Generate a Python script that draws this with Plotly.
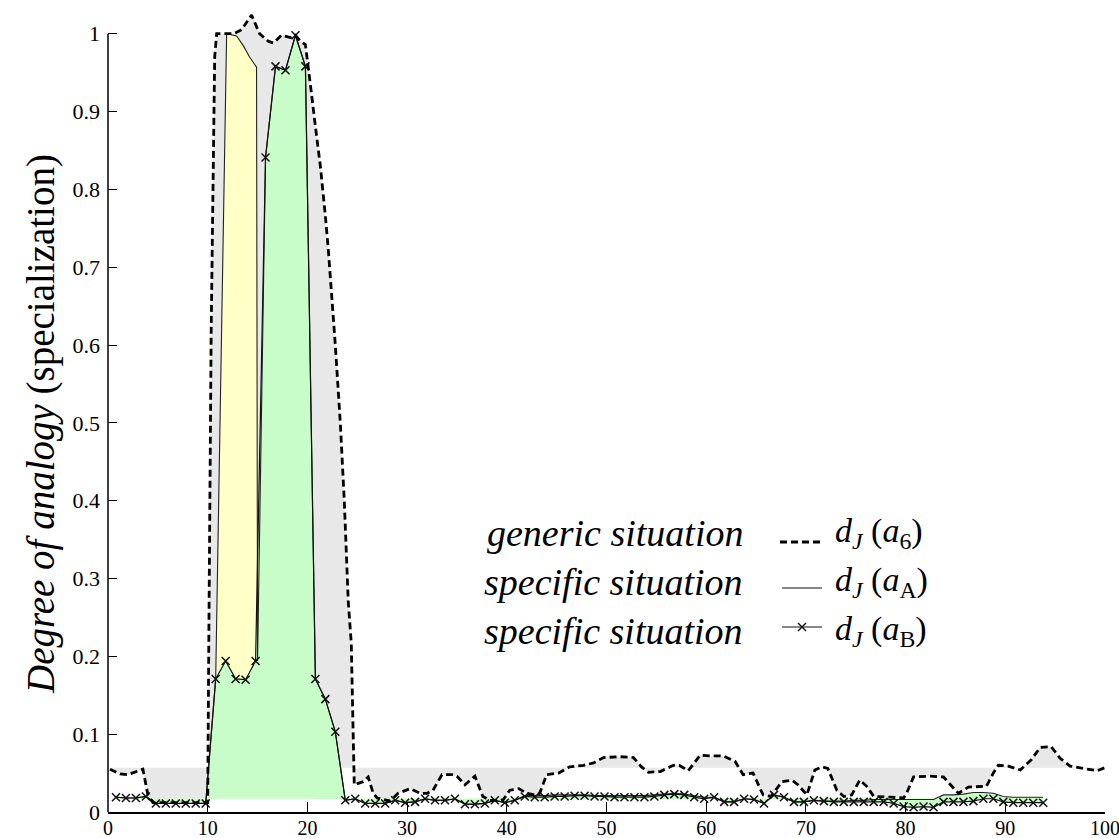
import plotly.graph_objects as go

# ---------------- data ----------------
x_ticks = [0, 10, 20, 30, 40, 50, 60, 70, 80, 90, 100]
y_ticks = [0, 0.1, 0.2, 0.3, 0.4, 0.5, 0.6, 0.7, 0.8, 0.9, 1]

# generic situation d_J(a_6)  (dashed)
a6_x = [0.2, 1.2, 2.0, 2.9, 3.5, 4.0, 4.5, 6.0, 8.0, 10.0, 10.1, 10.35, 10.7, 10.9, 12.6, 13.4, 14.4, 15.2,
        16.1, 16.6, 17.4, 18.3, 18.8, 19.3, 19.8, 20.1, 20.4, 20.8, 21.3, 21.8, 22.1, 22.8, 23.3, 23.7, 24.1,
        24.4, 24.6, 24.7, 25.6, 26.1, 26.6, 27.0, 28.3, 29.1, 30.3, 31.3, 32.0, 32.6, 33.5, 34.5, 35.0, 35.8,
        36.8, 37.6, 38.3, 39.6, 40.3, 41.2, 42.0, 42.8, 43.3, 44.0, 45.2, 46.3, 47.7, 48.7, 49.7, 51.4, 52.7,
        53.5, 54.2, 55.4, 56.7, 57.3, 58.2, 59.4, 60.4, 61.7, 62.9, 63.7, 64.7, 65.7, 66.5, 67.6, 68.6, 69.2,
        70.1, 70.9, 71.6, 72.2, 73.1, 73.8, 74.6, 75.4, 76.1, 76.8, 78.5, 79.8, 80.1, 80.8, 82.4, 83.8, 84.5,
        85.3, 86.3, 88.1, 88.8, 89.3, 90.3, 91.5, 92.6, 93.5, 94.6, 95.5, 96.5, 97.8, 99.2, 100.0]
a6_y = [0.055, 0.049, 0.048, 0.052, 0.055, 0.022, 0.012, 0.012, 0.012, 0.012, 0.2, 0.62, 0.97, 1.0, 1.0,
        1.005, 1.024, 1.0, 0.99, 0.988, 0.998, 0.995, 0.998, 0.99, 0.986, 0.958, 0.924, 0.881, 0.83, 0.766,
        0.722, 0.6, 0.5, 0.4, 0.27, 0.217, 0.058, 0.035, 0.039, 0.045, 0.024, 0.018, 0.014, 0.024, 0.030,
        0.024, 0.024, 0.028, 0.048, 0.048, 0.046, 0.035, 0.046, 0.020, 0.015, 0.015, 0.028, 0.030, 0.024,
        0.022, 0.024, 0.048, 0.050, 0.058, 0.060, 0.063, 0.070, 0.071, 0.070, 0.058, 0.051, 0.052, 0.060,
        0.060, 0.053, 0.073, 0.072, 0.072, 0.065, 0.048, 0.050, 0.022, 0.020, 0.039, 0.041, 0.035, 0.022,
        0.054, 0.058, 0.056, 0.028, 0.020, 0.022, 0.041, 0.033, 0.020, 0.019, 0.018, 0.024, 0.045, 0.046,
        0.045, 0.035, 0.024, 0.032, 0.033, 0.050, 0.060, 0.059, 0.054, 0.067, 0.083, 0.084, 0.069, 0.059,
        0.056, 0.053, 0.057]

# specific situation d_J(a_B)  (line with x markers)
aB_x = [0.8, 1.8, 2.8, 3.8, 4.8, 5.8, 6.8, 7.8, 8.8, 9.8, 10.8, 11.8, 12.8, 13.8, 14.8, 15.8, 16.8, 17.8,
        18.8, 19.8, 20.8, 21.8, 22.8, 23.8, 24.8, 25.8, 26.8, 27.8, 28.8, 29.8, 30.8, 31.8, 32.8, 33.8, 34.8,
        35.8, 36.8, 37.8, 38.8, 39.8, 40.8, 41.8, 42.8, 43.8, 44.8, 45.8, 46.8, 47.8, 48.8, 49.8, 50.8, 51.8,
        52.8, 53.8, 54.8, 55.8, 56.8, 57.8, 58.8, 59.8, 60.8, 61.8, 62.8, 63.8, 64.8, 65.8, 66.8, 67.8, 68.8,
        69.8, 70.8, 71.8, 72.8, 73.8, 74.8, 75.8, 76.8, 77.8, 78.8, 79.8, 80.8, 81.8, 82.8, 83.8, 84.8, 85.8,
        86.8, 87.8, 88.8, 89.8, 90.8, 91.8, 92.8, 93.8]
aB_y = [0.019, 0.018, 0.018, 0.020, 0.011, 0.011, 0.011, 0.011, 0.011, 0.011, 0.171, 0.194, 0.171, 0.170,
        0.194, 0.841, 0.958, 0.953, 0.998, 0.958, 0.171, 0.145, 0.103, 0.015, 0.017, 0.011, 0.011, 0.011,
        0.015, 0.012, 0.013, 0.017, 0.015, 0.015, 0.017, 0.010, 0.010, 0.011, 0.015, 0.012, 0.015, 0.020,
        0.019, 0.019, 0.020, 0.020, 0.021, 0.021, 0.020, 0.020, 0.019, 0.019, 0.019, 0.019, 0.020, 0.022,
        0.023, 0.022, 0.019, 0.017, 0.019, 0.013, 0.013, 0.017, 0.016, 0.011, 0.022, 0.019, 0.013, 0.013,
        0.015, 0.014, 0.013, 0.013, 0.013, 0.013, 0.013, 0.013, 0.011, 0.007, 0.006, 0.007, 0.006, 0.013,
        0.013, 0.013, 0.014, 0.017, 0.017, 0.013, 0.012, 0.012, 0.012, 0.012]

# specific situation d_J(a_A)  (solid line)
aA_x = [0.8, 1.8, 2.8, 3.8, 4.8, 5.8, 6.8, 7.8, 8.8, 9.8, 10.8, 11.9, 12.9, 13.6, 14.2, 14.9, 15.0, 15.8,
        16.8, 17.8, 18.8, 19.8, 20.8, 21.8, 22.8, 23.8, 24.8, 25.8, 26.8, 27.8, 28.8, 29.8, 30.8, 31.8, 32.8,
        33.8, 34.8, 35.8, 36.8, 37.8, 38.8, 39.8, 40.8, 41.8, 42.8, 43.8, 44.8, 45.8, 46.8, 47.8, 48.8, 49.8,
        50.8, 51.8, 52.8, 53.8, 54.8, 55.8, 56.8, 57.8, 58.8, 59.8, 60.8, 61.8, 62.8, 63.8, 64.8, 65.8, 66.8,
        67.8, 68.8, 69.8, 70.8, 71.8, 72.8, 73.8, 74.8, 75.8, 76.8, 77.8, 78.8, 79.8, 80.8, 81.8, 82.8, 83.8,
        84.8, 85.8, 86.8, 87.8, 88.8, 89.8, 90.8, 91.8, 92.8, 93.8]
aA_y = [0.019, 0.018, 0.018, 0.020, 0.011, 0.011, 0.011, 0.011, 0.011, 0.011, 0.171, 1.0, 0.997, 0.984,
        0.970, 0.957, 0.194, 0.841, 0.958, 0.953, 0.998, 0.958, 0.171, 0.145, 0.103, 0.015, 0.017, 0.011,
        0.011, 0.011, 0.015, 0.012, 0.013, 0.017, 0.015, 0.015, 0.017, 0.010, 0.010, 0.011, 0.015, 0.012,
        0.015, 0.021, 0.021, 0.021, 0.022, 0.022, 0.022, 0.022, 0.021, 0.021, 0.021, 0.021, 0.021, 0.021,
        0.022, 0.023, 0.024, 0.023, 0.021, 0.019, 0.019, 0.013, 0.013, 0.017, 0.016, 0.011, 0.022, 0.019,
        0.013, 0.013, 0.015, 0.014, 0.014, 0.014, 0.015, 0.015, 0.016, 0.016, 0.016, 0.016, 0.016, 0.016,
        0.016, 0.022, 0.022, 0.023, 0.025, 0.025, 0.024, 0.020, 0.019, 0.019, 0.019, 0.019]

a6_level = 0.057     # reference level for the grey band
spec_level = 0.017   # reference level for the coloured bands

assert len(a6_x) == len(a6_y) and len(aB_x) == len(aB_y) and len(aA_x) == len(aA_y)

SERIF = "Liberation Serif"
GREY = "#e8e8e8"
YELLOW = "#ffffc8"
GREEN = "#c8fcc8"


def band(xs, ys, level):
    """closed polygon between a series and a horizontal level"""
    return list(xs) + [xs[-1], xs[0], xs[0]], list(ys) + [level, level, ys[0]]


fig = go.Figure()

gx, gy = band(a6_x, a6_y, a6_level)
fig.add_trace(go.Scatter(x=gx, y=gy, fill="toself", fillcolor=GREY, mode="none", hoverinfo="skip"))
yx, yy = band(aA_x, aA_y, spec_level)
fig.add_trace(go.Scatter(x=yx, y=yy, fill="toself", fillcolor=YELLOW, mode="none", hoverinfo="skip"))
bx, by = band(aB_x, aB_y, spec_level)
fig.add_trace(go.Scatter(x=bx, y=by, fill="toself", fillcolor=GREEN, mode="none", hoverinfo="skip"))
tail = [i for i, v in enumerate(aA_x) if v > 20]
tx, ty = band([aA_x[i] for i in tail], [aA_y[i] for i in tail], spec_level)
fig.add_trace(go.Scatter(x=tx, y=ty, fill="toself", fillcolor=GREEN, mode="none", hoverinfo="skip"))

fig.add_trace(go.Scatter(x=aA_x, y=aA_y, mode="lines", line=dict(color="#222", width=1.1)))
fig.add_trace(go.Scatter(x=aB_x, y=aB_y, mode="lines+markers", line=dict(color="#111", width=1.2),
                         marker=dict(symbol="x-thin", size=8, line=dict(color="#111", width=1.5))))
fig.add_trace(go.Scatter(x=a6_x, y=a6_y, mode="lines",
                         line=dict(color="black", width=2.8, dash="7px,4px")))

# ------------- layout ---------------
L, R, T, B = 108, 14, 2, 26
W, H = 1119, 838
plot_w, plot_h = W - L - R, H - T - B
y_top = 1.0407


def px(x):
    return (x - L) / plot_w


def py(y):
    return (H - B - y) / plot_h


fig.update_layout(
    width=W, height=H, margin=dict(l=L, r=R, t=T, b=B, autoexpand=False),
    paper_bgcolor="white", plot_bgcolor="white", showlegend=False,
    font=dict(family=SERIF, color="black", size=22),
    xaxis=dict(range=[0, 100], tickvals=x_ticks, ticktext=[str(v) for v in x_ticks],
               ticks="inside", ticklen=10, tickcolor="black", tickwidth=1.2,
               showline=True, linecolor="black", linewidth=1.5, showgrid=False, zeroline=False,
               tickfont=dict(family=SERIF, size=20), ticklabelstandoff=-3,
               ticklabeloverflow="allow"),
    yaxis=dict(range=[0, y_top], tickvals=y_ticks, ticktext=[f"{v:g}" for v in y_ticks],
               ticks="inside", ticklen=9, tickcolor="black", tickwidth=1.2,
               showline=False, showgrid=False, zeroline=False,
               tickfont=dict(family=SERIF, size=22), ticklabelstandoff=7),
)

# y axis line only from 0 to 1
fig.add_shape(type="line", xref="paper", yref="y", x0=0, x1=0, y0=0, y1=1,
              line=dict(color="black", width=1.5))

# y-axis title
fig.add_annotation(xref="paper", yref="paper", x=px(41), y=py(424), textangle=-90,
                   text="<i>Degree of analogy</i> (specialization)", showarrow=False,
                   font=dict(family=SERIF, size=39), xanchor="center", yanchor="middle")

# legend
rows = [
    ("<i>generic situation</i>", "<i>d</i><sub><i>J</i></sub> (<i>a</i><sub>6</sub>)", 533, 542),
    ("<i>specific situation</i>", "<i>d</i><sub><i>J</i></sub> (<i>a</i><sub>A</sub>)", 582, 588),
    ("<i>specific situation</i>", "<i>d</i><sub><i>J</i></sub> (<i>a</i><sub>B</sub>)", 631, 627),
]
for i, (lab, sym, ty_, ly_) in enumerate(rows):
    fig.add_annotation(xref="paper", yref="paper", x=px(745), y=py(ty_), text=lab, showarrow=False,
                       xanchor="right", yanchor="middle", font=dict(family=SERIF, size=38))
    fig.add_annotation(xref="paper", yref="paper", x=px(833), y=py(ty_), text=sym, showarrow=False,
                       xanchor="left", yanchor="middle", font=dict(family=SERIF, size=34))
    if i == 0:
        fig.add_shape(type="line", xref="paper", yref="paper", x0=px(780), x1=px(822), y0=py(ly_), y1=py(ly_),
                      line=dict(color="black", width=2.8, dash="7px,4px"))
    else:
        fig.add_shape(type="line", xref="paper", yref="paper", x0=px(782), x1=px(822), y0=py(ly_), y1=py(ly_),
                      line=dict(color="#111", width=1.2))
    if i == 2:
        for s in (1, -1):
            fig.add_shape(type="line", xref="paper", yref="paper", x0=px(798), x1=px(806),
                          y0=py(ly_ - 4 * s), y1=py(ly_ + 4 * s), line=dict(color="#111", width=1.5))

fig.write_html("out.html")
